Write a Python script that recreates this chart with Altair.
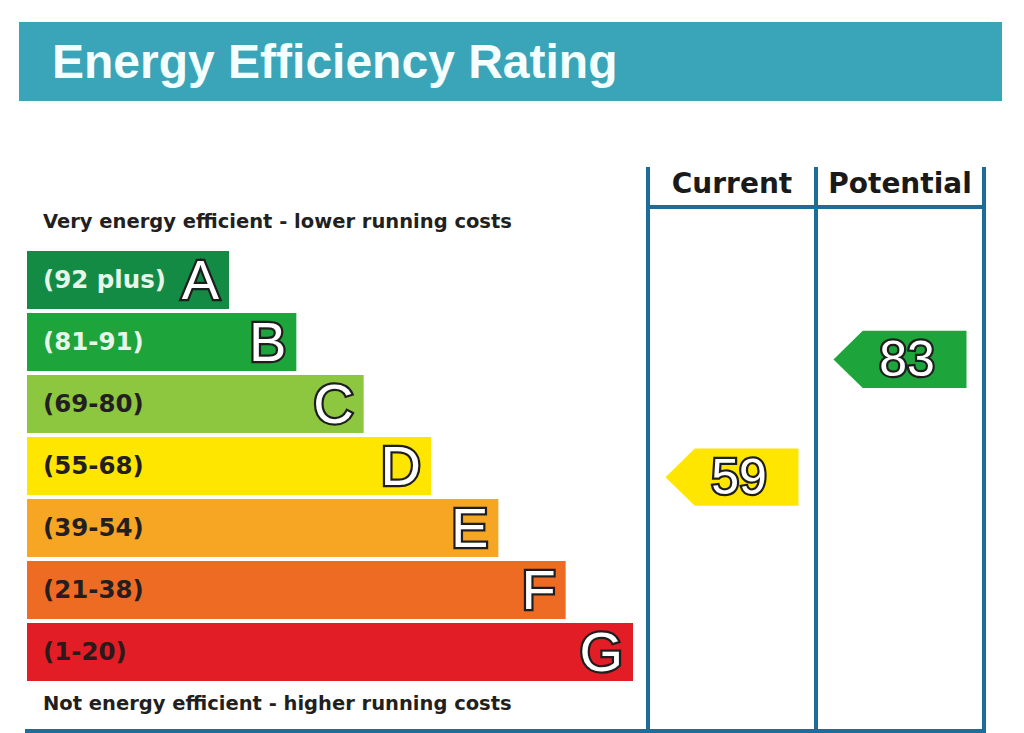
import altair as alt
import pandas as pd

# ---------------- data ----------------
letters = ["A", "B", "C", "D", "E", "F", "G"]
range_labels = ["(92 plus)", "(81-91)", "(69-80)", "(55-68)", "(39-54)", "(21-38)", "(1-20)"]
band_hi = [100, 91, 80, 68, 54, 38, 20]
band_lo = [92, 81, 69, 55, 39, 21, 1]
bar_steps = [3, 4, 5, 6, 7, 8, 9]
band_colors = ["#138b45", "#1da43b", "#8dc63f", "#ffe600", "#f6a623", "#ee6b24", "#e21d25"]
label_colors = ["#e6f7ea", "#e6f7ea", "#231f20", "#231f20", "#231f20", "#231f20", "#2a1a1a"]

columns = ["Current", "Potential"]
ratings = [59, 83]

title_text = "Energy Efficiency Rating"
top_note = "Very energy efficient - lower running costs"
bottom_note = "Not energy efficient - higher running costs"

# ---------------- tables ----------------
bands = pd.DataFrame({
    "letter": letters, "label": range_labels, "hi": band_hi, "lo": band_lo,
    "steps": bar_steps, "color": band_colors, "lcolor": label_colors,
})
bands["start"] = 0
bands["mid"] = (bands["hi"] + bands["lo"]) / 2


def band_color(v):
    for hi, lo, c in zip(band_hi, band_lo, band_colors):
        if lo <= v <= hi:
            return c
    return band_colors[-1]


arrows = pd.DataFrame({"column": columns, "rating": ratings,
                       "color": [band_color(v) for v in ratings]})
one = pd.DataFrame({"k": [0]})

# ---------------- scales ----------------
BAND_TOP, BAND_H, BAND_GAP = 251, 58, 4
y_domain, y_range = [], []
for i, (hi, lo) in enumerate(zip(band_hi, band_lo)):
    top = BAND_TOP + i * (BAND_H + BAND_GAP)
    y_domain += [hi, lo]
    y_range += [top, top + BAND_H]
yscale = alt.Scale(domain=y_domain, range=y_range, nice=False, zero=False)
xscale = alt.Scale(domain=[0, 9], range=[27, 633], nice=False, zero=False)
colscale = alt.Scale(type="point", domain=columns, range=[732, 900], padding=0)

LINE = "#1c6e98"
TEAL = "#3aa5b9"

# ---------------- layers ----------------
header = alt.Chart(one).mark_rect(color=TEAL).encode(
    x=alt.value(19), x2=alt.value(1002), y=alt.value(22), y2=alt.value(101))
title = alt.Chart(one).mark_text(
    text=title_text, font="Liberation Sans", fontWeight="bold", fontSize=48,
    color="#f4ffff", align="left", baseline="alphabetic"
).encode(x=alt.value(52), y=alt.value(78))


def vline(x):
    return alt.Chart(one).mark_rule(color=LINE, strokeWidth=4).encode(
        x=alt.value(x), y=alt.value(167), y2=alt.value(733))


def hline(y, x1, x2):
    return alt.Chart(one).mark_rule(color=LINE, strokeWidth=4).encode(
        y=alt.value(y), x=alt.value(x1), x2=alt.value(x2))


lines = [vline(648), vline(816), vline(984), hline(207, 648, 984), hline(731, 25, 986)]

note_kw = dict(font="DejaVu Sans", fontWeight="bold", fontSize=19.5, color="#231f20",
               align="left", baseline="middle")
notes = [
    alt.Chart(one).mark_text(text=top_note, **note_kw).encode(x=alt.value(43), y=alt.value(222)),
    alt.Chart(one).mark_text(text=bottom_note, **note_kw).encode(x=alt.value(43), y=alt.value(704)),
]

bars = alt.Chart(bands).mark_rect().encode(
    x=alt.X("start:Q", scale=xscale, axis=None),
    x2="steps:Q",
    y=alt.Y("hi:Q", scale=yscale, axis=None),
    y2="lo:Q",
    color=alt.Color("color:N", scale=None),
)

labels = alt.Chart(bands).mark_text(
    font="DejaVu Sans", fontWeight="bold", fontSize=24.5, align="left",
    baseline="middle", dx=16, dy=1
).encode(
    x=alt.X("start:Q", scale=xscale, axis=None),
    y=alt.Y("mid:Q", scale=yscale, axis=None),
    text="label:N",
    color=alt.Color("lcolor:N", scale=None),
)

letter_kw = dict(font="Liberation Sans", fontSize=56, align="right", baseline="middle", dx=-10, dy=2)
letters_outline = alt.Chart(bands).mark_text(
    fill="white", stroke="#1e1e1e", strokeWidth=4.5, **letter_kw
).encode(
    x=alt.X("steps:Q", scale=xscale, axis=None),
    y=alt.Y("mid:Q", scale=yscale, axis=None),
    text="letter:N",
)
letters_fill = alt.Chart(bands).mark_text(fill="white", **letter_kw).encode(
    x=alt.X("steps:Q", scale=xscale, axis=None),
    y=alt.Y("mid:Q", scale=yscale, axis=None),
    text="letter:N",
)

col_headers = alt.Chart(arrows).mark_text(
    font="DejaVu Sans", fontWeight="bold", fontSize=28, color="#1a1a1a", baseline="middle"
).encode(
    x=alt.X("column:N", scale=colscale, axis=None),
    y=alt.value(185),
    text="column:N",
)

arrow_path = "M -1 0 L -0.56 -0.43 L 1 -0.43 L 1 0.43 L -0.56 0.43 Z"
arrow_shapes = alt.Chart(arrows).mark_point(
    shape=arrow_path, size=133 * 133, filled=True, opacity=1, strokeWidth=0
).encode(
    x=alt.X("column:N", scale=colscale, axis=None),
    y=alt.Y("rating:Q", scale=yscale, axis=None),
    color=alt.Color("color:N", scale=None),
)

num_kw = dict(font="Liberation Sans", fontSize=50, align="center", baseline="middle", dx=7, dy=2)
nums_outline = alt.Chart(arrows).mark_text(
    fill="white", stroke="#1e1e1e", strokeWidth=4.5, **num_kw
).encode(
    x=alt.X("column:N", scale=colscale, axis=None),
    y=alt.Y("rating:Q", scale=yscale, axis=None),
    text="rating:Q",
)
nums_fill = alt.Chart(arrows).mark_text(fill="white", **num_kw).encode(
    x=alt.X("column:N", scale=colscale, axis=None),
    y=alt.Y("rating:Q", scale=yscale, axis=None),
    text="rating:Q",
)

chart = alt.layer(
    header, title, *lines, *notes, bars, labels, letters_outline, letters_fill,
    col_headers, arrow_shapes, nums_outline, nums_fill
).resolve_scale(x="independent").properties(
    width=1024, height=733, padding=0,
    autosize=alt.AutoSizeParams(type="none"),
    background="white",
).configure_view(stroke=None)

chart.save("out.html", embed_options={"renderer": "svg", "actions": False})
